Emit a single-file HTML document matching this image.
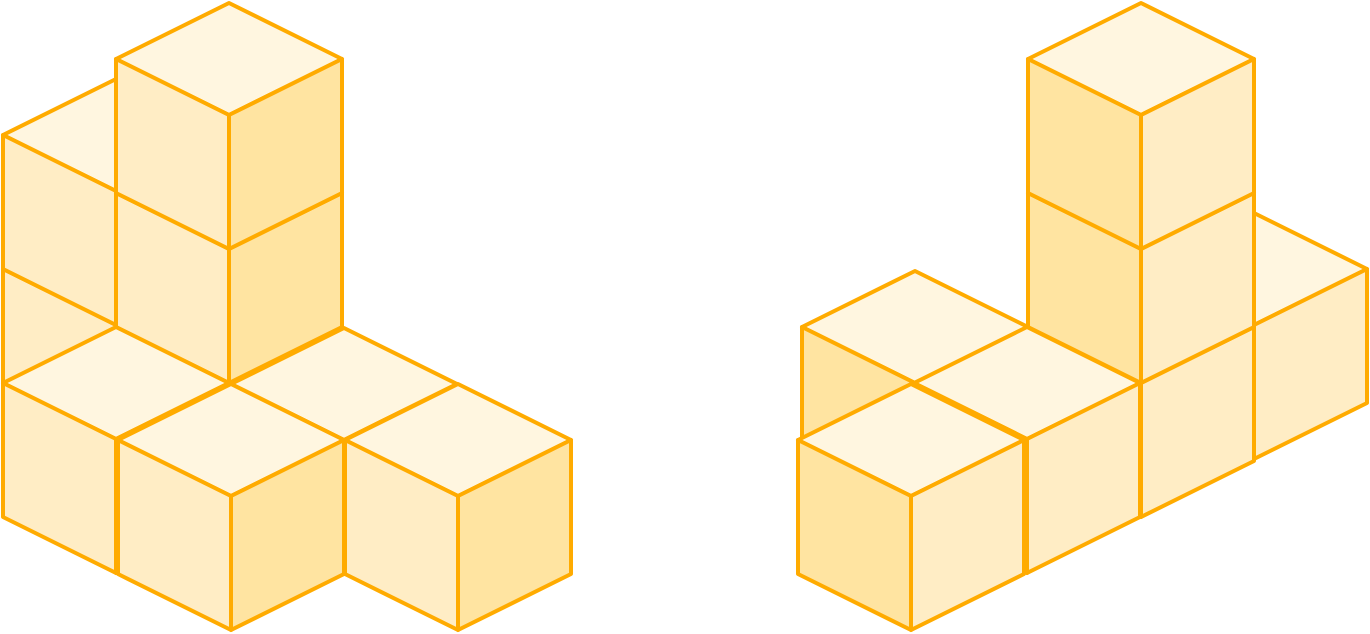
<!DOCTYPE html>
<html><head><meta charset="utf-8"><style>
html,body{margin:0;padding:0;background:#fff;}
svg{display:block}
</style></head><body>
<svg width="1370" height="634" viewBox="0 0 1370 634" xmlns="http://www.w3.org/2000/svg">
<defs>
<g id="A" stroke="#FFAB00" stroke-width="4" stroke-linejoin="round">
<polygon points="0,0 113,56 0,112 -113,56" fill="#FFF6E0"/>
<polygon points="-113,56 0,112 0,246 -113,190" fill="#FFEDC5"/>
<polygon points="0,112 113,56 113,190 0,246" fill="#FFE4A1"/>
</g>
<g id="B" stroke="#FFAB00" stroke-width="4" stroke-linejoin="round">
<polygon points="0,0 113,56 0,112 -113,56" fill="#FFF6E0"/>
<polygon points="-113,56 0,112 0,246 -113,190" fill="#FFE4A1"/>
<polygon points="0,112 113,56 113,190 0,246" fill="#FFEDC5"/>
</g>
</defs>
<!-- left figure -->
<use href="#A" x="116" y="213"/>
<use href="#A" x="116" y="79"/>
<use href="#A" x="229" y="137"/>
<use href="#A" x="229" y="3"/>
<use href="#A" x="344" y="328"/>
<use href="#A" x="116" y="327"/>
<use href="#A" x="231" y="384"/>
<use href="#A" x="458" y="384"/>
<!-- right figure -->
<use href="#B" x="1254" y="213"/>
<use href="#B" x="1141" y="271"/>
<use href="#B" x="1141" y="137"/>
<use href="#B" x="1141" y="3"/>
<use href="#B" x="915" y="271"/>
<use href="#B" x="1027" y="327"/>
<use href="#B" x="911" y="384"/>
</svg>
</body></html>
